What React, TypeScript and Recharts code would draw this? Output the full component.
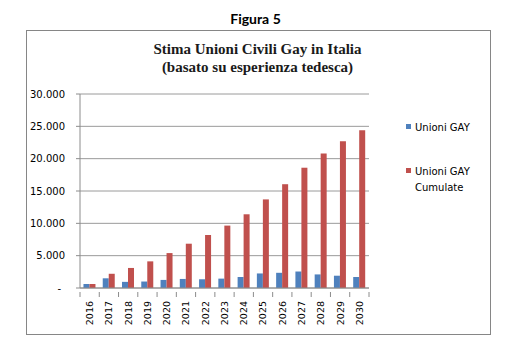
import React from "react";
import { BarChart, Bar, XAxis, YAxis, CartesianGrid, Legend } from "recharts";

const years = ["2016", "2017", "2018", "2019", "2020", "2021", "2022", "2023", "2024", "2025", "2026", "2027", "2028", "2029", "2030"];
const unioniGay = [620, 1500, 950, 1000, 1250, 1400, 1350, 1450, 1700, 2250, 2350, 2550, 2100, 1900, 1700];
const unioniCumulate = [620, 2200, 3100, 4120, 5400, 6850, 8200, 9650, 11400, 13700, 16050, 18600, 20800, 22700, 24400];
const yTicks = [0, 5000, 10000, 15000, 20000, 25000, 30000];

const data = years.map((year, i) => ({
  year,
  gay: unioniGay[i],
  cumulate: unioniCumulate[i],
}));

const AXIS_GREY = "#8c8c8c";
const TICK_FONT = "'DejaVu Sans', Verdana, sans-serif";

function fmt(v: number) {
  if (v === 0) return "-";
  return String(v).replace(/\B(?=(\d{3})+(?!\d))/g, ".");
}

function YearTick(props: any) {
  const { x, y, payload, index, visibleTicksCount } = props;
  const half = payload.offset || 9.6;
  const isLast = index === visibleTicksCount - 1;
  return (
    <g>
      <line x1={x - half} x2={x - half} y1={y - 4} y2={y + 1} stroke={AXIS_GREY} />
      {isLast && <line x1={x + half} x2={x + half} y1={y - 4} y2={y + 1} stroke={AXIS_GREY} />}
      <text
        x={x}
        y={y + 5}
        transform={`rotate(-90, ${x}, ${y + 5})`}
        textAnchor="end"
        dy="0.36em"
        fontSize={9.5}
        fontFamily={TICK_FONT}
        fill="#000"
      >
        {payload.value}
      </text>
    </g>
  );
}

function ValueTick(props: any) {
  const { x, y, payload } = props;
  const zero = payload.value === 0;
  return (
    <text x={zero ? x - 4 : x} y={y} dy="0.35em" textAnchor="end" fontSize={10} fontFamily={TICK_FONT} fill="#000">
      {fmt(payload.value)}
    </text>
  );
}

function LegendBox(props: any) {
  const { payload } = props;
  return (
    <div style={{ fontFamily: TICK_FONT, fontSize: 10, color: "#000" }}>
      {(payload || []).map((item: any) => (
        <div key={item.value} style={{ position: "relative", height: 44 }}>
          <span
            style={{
              position: "absolute",
              left: 0,
              top: 4,
              width: 5,
              height: 5,
              background: item.color,
            }}
          />
          <span style={{ position: "absolute", left: 9, top: 0, lineHeight: "16px", whiteSpace: "pre" }}>
            {item.value}
          </span>
        </div>
      ))}
    </div>
  );
}

export default function App() {
  return (
    <div style={{ position: "absolute", left: 0, top: 0, width: 513, height: 355, background: "#fff" }}>
      <div
        style={{
          position: "absolute",
          left: 0,
          width: 513,
          top: 10,
          textAlign: "center",
          fontFamily: "Lato, 'Open Sans', sans-serif",
          fontWeight: 700,
          fontSize: 14,
        }}
      >
        <span style={{ position: "relative", left: -1 }}>Figura 5</span>
      </div>
      <div
        style={{
          position: "absolute",
          left: 26,
          top: 30,
          width: 463,
          height: 303,
          border: "1px solid #868686",
        }}
      />
      <div
        style={{
          position: "absolute",
          left: 26,
          width: 463,
          top: 40,
          textAlign: "center",
          fontFamily: "'Liberation Serif', 'DejaVu Serif', serif",
          fontWeight: 700,
          fontSize: 15,
          lineHeight: "18px",
          color: "#1a1a1a",
        }}
      >
        Stima Unioni Civili Gay in Italia
        <br />
        (basato su esperienza tedesca)
      </div>
      <div style={{ position: "absolute", left: 0, top: 0 }}>
        <BarChart
          width={513}
          height={355}
          data={data}
          margin={{ top: 94, right: 144, bottom: 27, left: 20 }}
          barCategoryGap="18%"
          barGap={0}
        >
          <CartesianGrid vertical={false} stroke="#9a9a9a" strokeWidth={1} />
          <XAxis
            dataKey="year"
            type="category"
            height={40}
            axisLine={{ stroke: AXIS_GREY }}
            tickLine={false}
            tick={<YearTick />}
            interval={0}
          />
          <YAxis
            width={60}
            domain={[0, 30000]}
            ticks={yTicks}
            interval={0}
            axisLine={{ stroke: AXIS_GREY }}
            tickLine={{ stroke: AXIS_GREY }}
            tickSize={4}
            tickMargin={11}
            tick={<ValueTick />}
          />
          <Legend
            layout="vertical"
            align="center"
            verticalAlign="middle"
            content={<LegendBox />}
            wrapperStyle={{ position: "absolute", left: 406, top: 120, width: 100, height: 90 }}
          />
          <Bar dataKey="gay" name="Unioni GAY" fill="#4F81BD" isAnimationActive={false} />
          <Bar dataKey="cumulate" name={"Unioni GAY\nCumulate"} fill="#C0504D" isAnimationActive={false} />
        </BarChart>
      </div>
    </div>
  );
}
